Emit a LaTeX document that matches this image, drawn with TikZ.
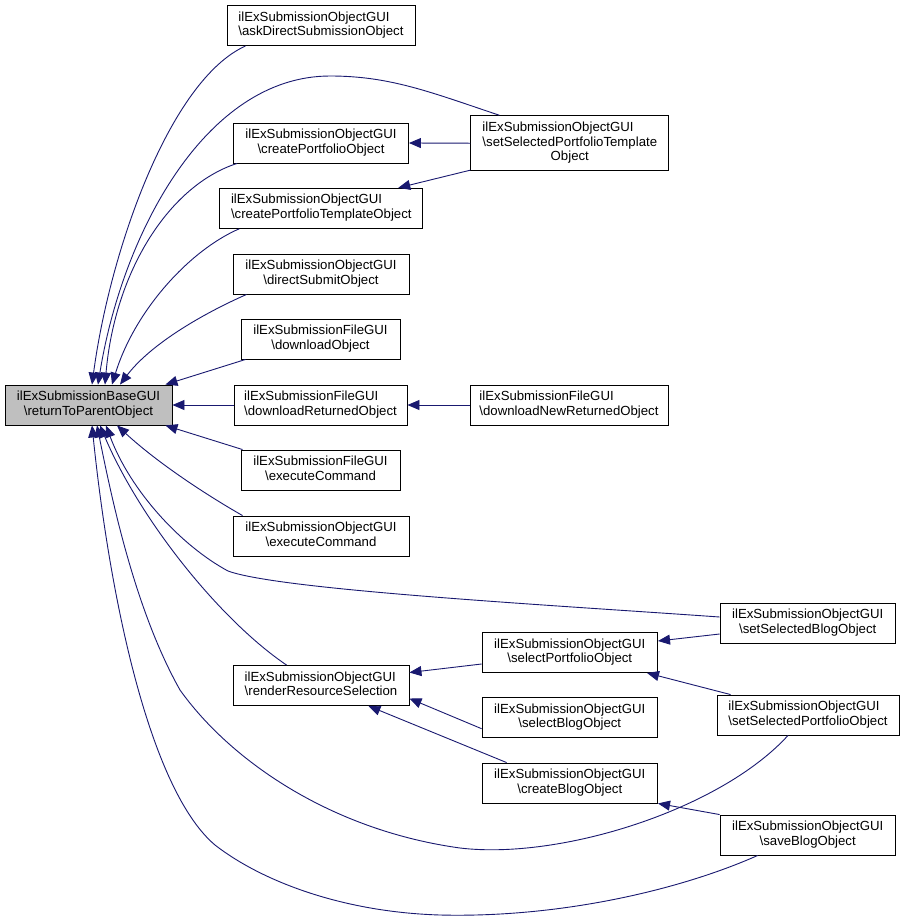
\documentclass[tikz,border=0pt]{standalone}
\usepackage{fontspec}
\setmainfont{Liberation Sans}
\usetikzlibrary{arrows.meta}
\definecolor{edgecol}{HTML}{191970}
\definecolor{maingray}{HTML}{BFBFBF}
\newcommand\twol[2]{\begin{tabular}{@{}l@{}}#1\\\multicolumn{1}{@{}c@{}}{#2}\end{tabular}}
\newcommand\threel[3]{\begin{tabular}{@{}l@{}}#1\\#2\\\multicolumn{1}{@{}c@{}}{#3}\end{tabular}}
\begin{document}
\begin{tikzpicture}[x=1pt,y=-1pt,
  fn/.style={draw=black, line width=0.9pt, fill=white, inner sep=0pt, minimum height=40pt,
    font=\fontsize{13.2}{14.5}\selectfont},
  mainnode/.style={fn, fill=maingray},
  edge/.style={draw=edgecol, line width=0.9pt, -{Triangle[length=12pt,width=10pt]}}]
\path[use as bounding box, fill=white] (0,0) rectangle (904,922);

% nodes
\node[mainnode, minimum width=167pt] (m) at (88.5,405) {\twol{ilExSubmissionBaseGUI}{\textbackslash returnToParentObject}};
\node[fn, minimum width=188pt] (ask) at (321,25.5) {\twol{ilExSubmissionObjectGUI}{\textbackslash askDirectSubmissionObject}};
\node[fn, minimum width=175pt] (cpo) at (321,143) {\twol{ilExSubmissionObjectGUI}{\textbackslash createPortfolioObject}};
\node[fn, minimum width=203pt] (cpto) at (321.3,208.3) {\twol{ilExSubmissionObjectGUI}{\textbackslash createPortfolioTemplateObject}};
\node[fn, minimum width=198pt, minimum height=55pt] (sspt) at (569.8,143.2) {\threel{ilExSubmissionObjectGUI}{\textbackslash setSelectedPortfolioTemplate}{Object}};
\node[fn, minimum width=176pt] (dso) at (321,274) {\twol{ilExSubmissionObjectGUI}{\textbackslash directSubmitObject}};
\node[fn, minimum width=159pt] (dlo) at (320.5,339) {\twol{ilExSubmissionFileGUI}{\textbackslash downloadObject}};
\node[fn, minimum width=173pt] (dro) at (320.5,405) {\twol{ilExSubmissionFileGUI}{\textbackslash downloadReturnedObject}};
\node[fn, minimum width=198pt] (dnro) at (569,405) {\twol{ilExSubmissionFileGUI}{\textbackslash downloadNewReturnedObject}};
\node[fn, minimum width=159pt] (ecf) at (320.5,470) {\twol{ilExSubmissionFileGUI}{\textbackslash executeCommand}};
\node[fn, minimum width=176pt] (eco) at (321,536) {\twol{ilExSubmissionObjectGUI}{\textbackslash executeCommand}};
\node[fn, minimum width=176pt] (rrs) at (321,685.5) {\twol{ilExSubmissionObjectGUI}{\textbackslash renderResourceSelection}};
\node[fn, minimum width=175.5pt] (spo) at (569.8,652.5) {\twol{ilExSubmissionObjectGUI}{\textbackslash selectPortfolioObject}};
\node[fn, minimum width=175.5pt] (sbl) at (569.8,717.7) {\twol{ilExSubmissionObjectGUI}{\textbackslash selectBlogObject}};
\node[fn, minimum width=175.5pt] (cbo) at (569.8,783) {\twol{ilExSubmissionObjectGUI}{\textbackslash createBlogObject}};
\node[fn, minimum width=175.3pt] (ssbo) at (807.7,623) {\twol{ilExSubmissionObjectGUI}{\textbackslash setSelectedBlogObject}};
\node[fn, minimum width=182pt] (sspo) at (808,715) {\twol{ilExSubmissionObjectGUI}{\textbackslash setSelectedPortfolioObject}};
\node[fn, minimum width=175.3pt] (sbo) at (807.7,835) {\twol{ilExSubmissionObjectGUI}{\textbackslash saveBlogObject}};

% edges into main node (top)
\draw[edge] ([xshift=19pt]ask.south west) .. controls (170,80) and (110,250) .. ([xshift=3.5pt]m.north);
\draw[edge] ([xshift=29pt]sspt.north west) .. controls (430,92) and (390,76) .. (330,76) .. controls (205,76) and (122,235) .. ([xshift=9.5pt]m.north);
\draw[edge] ([xshift=4pt]cpo.south west) .. controls (170,185) and (115,270) .. ([xshift=16.5pt]m.north);
\draw[edge] ([xshift=20pt]cpto.south west) .. controls (190,250) and (135,310) .. ([xshift=23.5pt]m.north);
\draw[edge] ([xshift=14pt]dso.south west) .. controls (200,315) and (150,345) .. ([xshift=31.5pt]m.north);
\draw[edge] ([xshift=5pt]dlo.south west) -- ([xshift=-7pt]m.north east);
\draw[edge] (dro.west) -- (m.east);
% edges into main node (bottom)
\draw[edge] ([xshift=2pt]ecf.north west) -- ([xshift=-7pt]m.south east);
\draw[edge] ([xshift=10pt]eco.north west) .. controls (210,497) and (160,465) .. ([xshift=28.5pt]m.south);
\draw[edge] ([xshift=54pt]rrs.north west) .. controls (220,620) and (140,520) .. ([xshift=11.5pt]m.south);
\draw[edge] ([yshift=6pt]ssbo.west) .. controls (550,605) and (280,590) .. (228,571) .. controls (180,545) and (130,490) .. ([xshift=17.5pt]m.south);
\draw[edge] ([xshift=-20pt]sspo.south) .. controls (720,810) and (560,860) .. (460,848) .. controls (330,830) and (230,760) .. (180,690) .. controls (135,610) and (112,500) .. ([xshift=8.5pt]m.south);
\draw[edge] ([xshift=-50pt]sbo.south) .. controls (680,890) and (560,918) .. (440,915) .. controls (340,912) and (260,880) .. (215,845) .. controls (150,790) and (110,600) .. ([xshift=3.5pt]m.south);

% other edges
\draw[edge] (sspt.west) -- (cpo.east);
\draw[edge] ([yshift=1pt]sspt.south west) -- ([xshift=-25pt]cpto.north east);
\draw[edge] (dnro.west) -- (dro.east);
\draw[edge] ([yshift=-11pt]ssbo.west) -- ([yshift=11.5pt]spo.east);
\draw[edge] ([xshift=14pt]sspo.north west) -- ([xshift=-11pt]spo.south east);
\draw[edge] ([yshift=-11.5pt]spo.west) -- ([yshift=13pt]rrs.east);
\draw[edge] ([yshift=-11pt]sbl.west) -- ([yshift=-13pt]rrs.east);
\draw[edge] ([xshift=25pt]cbo.north west) -- ([xshift=-41pt]rrs.south east);
\draw[edge] (sbo.north west) -- (cbo.south east);
\end{tikzpicture}
\end{document}
